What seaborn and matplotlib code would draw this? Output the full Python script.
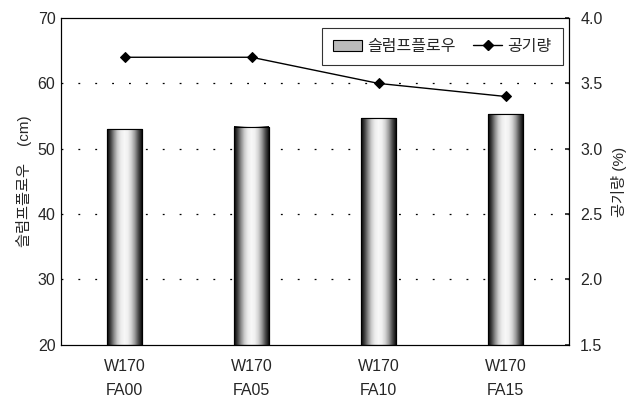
import numpy as np
import pandas as pd
import matplotlib
matplotlib.use("Agg")
import matplotlib.pyplot as plt
import seaborn as sns
from matplotlib.lines import Line2D
from matplotlib.patches import Patch

categories = ["W170\nFA00", "W170\nFA05", "W170\nFA10", "W170\nFA15"]
slump_flow = [53.0, 53.4, 54.7, 55.3]     # cm
air_content = [3.70, 3.70, 3.50, 3.40]    # %

sns.set_theme(style="white")
plt.rcParams["font.family"] = ["Liberation Sans", "Noto Sans CJK KR", "DejaVu Sans"]

df = pd.DataFrame({"mix": categories, "slump": slump_flow, "air": air_content})

fig = plt.figure(figsize=(6.39, 4.01), dpi=100)
ax = fig.add_axes([0.0955, 0.14, 0.795, 0.815])

YMIN, YMAX = 20, 70
sns.barplot(data=df, x="mix", y="slump", ax=ax, width=0.27,
            color="#d8d8d8", edgecolor="black", linewidth=0.8)
ax.set_ylim(YMIN, YMAX)
ax.set_yticks([20, 30, 40, 50, 60, 70])
ax.set_xlim(-0.5, 3.5)

# cylinder-like grey shading inside each bar
shade = np.array([0.0, 0.25, 0.55, 0.8, 0.93, 0.97, 0.94, 0.82, 0.6, 0.3, 0.05])
xs = np.linspace(0, 1, 200)
prof = np.interp(xs, np.linspace(0, 1, len(shade)), shade)
grad = np.tile(prof, (2, 1))
for p in list(ax.patches):
    x0, y0 = p.get_x(), p.get_y()
    w, h = p.get_width(), p.get_height()
    bottom = max(y0, YMIN)
    ax.imshow(grad, cmap="gray", vmin=0, vmax=1, aspect="auto",
              extent=(x0, x0 + w, bottom, y0 + h), zorder=p.get_zorder() + 0.1,
              interpolation="bilinear")
    # outline on top of the shading
    ax.add_patch(plt.Rectangle((x0, bottom), w, y0 + h - bottom, fill=False,
                               edgecolor="black", linewidth=0.8,
                               zorder=p.get_zorder() + 0.2))

ax.set_xlim(-0.5, 3.5)
ax.set_ylim(YMIN, YMAX)

for v in [30, 40, 50, 60]:
    ax.axhline(v, color="black", linestyle=(0, (1.5, 12)), linewidth=0.9, zorder=0)

ax.set_xlabel("")
ax.set_ylabel("슬럼프플로우    (cm)", fontsize=11)
ax.tick_params(axis="both", labelsize=11.5, length=0, pad=4)
ax.tick_params(axis="x", pad=10)
for lab in ax.get_xticklabels():
    lab.set_linespacing(1.75)
for s in ax.spines.values():
    s.set_color("black")
    s.set_linewidth(0.8)

ax2 = ax.twinx()
sns.lineplot(x=np.arange(len(categories)), y=air_content, ax=ax2, color="black",
             marker="D", markersize=5, linewidth=1.0, markeredgecolor="black")
ax2.set_ylim(1.5, 4.0)
ax2.set_yticks([1.5, 2.0, 2.5, 3.0, 3.5, 4.0])
ax2.set_yticklabels(["1.5", "2.0", "2.5", "3.0", "3.5", "4.0"])
ax2.tick_params(axis="y", labelsize=11.5, length=3, direction="in", pad=8)
ax2.set_ylabel("공기량 (%)", fontsize=11, rotation=90, labelpad=6)
ax2.set_xlim(-0.5, 3.5)
for s in ax2.spines.values():
    s.set_color("black")
    s.set_linewidth(0.8)

handles = [Patch(facecolor="#bbbbbb", edgecolor="black", linewidth=0.8),
           Line2D([0], [0], color="black", marker="D", markersize=5, linewidth=1.0)]
leg = ax2.legend(handles, ["슬럼프플로우", "공기량"], loc="upper right",
                 bbox_to_anchor=(0.988, 0.97), borderaxespad=0.0, ncol=2,
                 frameon=True, fancybox=False, edgecolor="black", fontsize=11.5,
                 handlelength=1.8, columnspacing=1.1, handletextpad=0.35,
                 borderpad=0.7)
leg.get_frame().set_linewidth(0.8)

fig.savefig("out.png", dpi=100)
